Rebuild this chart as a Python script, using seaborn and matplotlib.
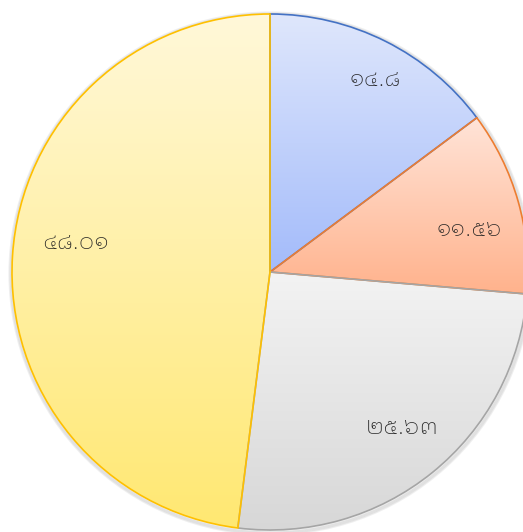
import numpy as np
import matplotlib
matplotlib.use("Agg")
import matplotlib.pyplot as plt
from matplotlib import font_manager
from matplotlib.colors import LinearSegmentedColormap
from matplotlib.patches import Circle
import seaborn as sns

# ข้อมูล
labels = ['๑๔.๘', '๑๑.๕๖', '๒๕.๖๓', '๔๘.๐๑']
values = [14.8, 11.56, 25.63, 48.01]
edge_colors = ['#4472C4', '#ED7D31', '#A5A5A5', '#FFC000']
top_colors = ['#DFE7FC', '#FFE4D8', '#F3F3F3', '#FFF8D9']
bottom_colors = ['#A3BBFA', '#FFB28C', '#D7D7D7', '#FFE872']
label_radius = [0.85, 0.79, 0.79, 0.76]
label_shift = [-2, -4, 1.5, -5]

sns.set_theme(style='white')
# ฟอนต์ไทยแบบมีหัว
names = {f.name for f in font_manager.fontManager.ttflist}
wanted = ['IBM Plex Sans Thai Looped', 'Noto Sans Thai Looped', 'Loma', 'Noto Sans Thai']
thai = [n for n in wanted if n in names]
plt.rcParams['font.family'] = thai[:1] + ['DejaVu Sans']

fig = plt.figure(figsize=(5.23, 5.32), dpi=100)
ax = fig.add_axes([0, 0, 1, 1])

wedges, texts = ax.pie(values, labels=labels, startangle=90, counterclock=False,
                       labeldistance=0.8,
                       wedgeprops=dict(facecolor='none', linewidth=1.2),
                       textprops=dict(fontsize=17, fontweight='light', color='#222222',
                                      ha='center', va='center'))

# เงาจาง ๆ ใต้วงกลม
for k in range(4):
    ax.add_patch(Circle((0.002, -0.006), 1 + 0.004 * k, facecolor='none',
                        edgecolor='#808080', alpha=0.12, linewidth=1.5, zorder=1))

for w, ec, c0, c1 in zip(wedges, edge_colors, top_colors, bottom_colors):
    w.set_edgecolor(ec)
    w.set_zorder(3)
    verts = w.get_patch_transform().transform(w.get_path().vertices)
    x0, x1 = verts[:, 0].min(), verts[:, 0].max()
    y0, y1 = verts[:, 1].min(), verts[:, 1].max()
    cmap = LinearSegmentedColormap.from_list('g', [c1, c0])
    grad = np.linspace(0, 1, 256).reshape(-1, 1)
    im = ax.imshow(grad, cmap=cmap, extent=(x0, x1, y0, y1), origin='lower',
                   aspect='auto', zorder=2, interpolation='bicubic')
    im.set_clip_path(w)

for w, t, rr, sh in zip(wedges, texts, label_radius, label_shift):
    ang = np.deg2rad((w.theta1 + w.theta2) / 2 + sh)
    t.set_position((rr * np.cos(ang), rr * np.sin(ang)))
    t.set_zorder(4)

r = 258
ax.set_xlim(-270 / r, (523 - 270) / r)
ax.set_ylim(-(532 - 272) / r, 272 / r)
ax.set_aspect('auto')
ax.axis('off')

fig.savefig('out.png', dpi=100)
